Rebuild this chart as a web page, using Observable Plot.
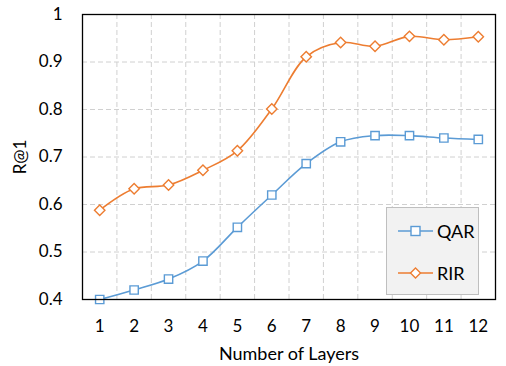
<!DOCTYPE html>
<html>
<head>
<meta charset="utf-8">
<script src="https://cdn.jsdelivr.net/npm/d3@7"></script>
<script src="https://cdn.jsdelivr.net/npm/@observablehq/plot@0.6"></script>
<style>
  html, body { margin: 0; padding: 0; background: #fff; }
  #wrap { position: relative; width: 506px; height: 366px; font-family: Lato, "Open Sans", sans-serif; }
  #legend { position: absolute; left: 386px; top: 207px; width: 93px; height: 88px; background: #f2f2f2; border: 1px solid #bfbfbf; box-sizing: border-box; }
  .item { position: absolute; left: 11px; height: 20px; display: flex; align-items: center; font-size: 18px; color: #000; }
  .item svg { margin-right: 4px; }
</style>
</head>
<body>
<div id="wrap"></div>
<script>
const layers = [1, 2, 3, 4, 5, 6, 7, 8, 9, 10, 11, 12];
const qar = [0.400, 0.420, 0.443, 0.481, 0.552, 0.620, 0.686, 0.732, 0.745, 0.745, 0.740, 0.737];
const rir = [0.588, 0.633, 0.641, 0.672, 0.713, 0.801, 0.911, 0.941, 0.933, 0.954, 0.947, 0.953];
const seriesNames = ["QAR", "RIR"];
const seriesColors = ["#5B9BD5", "#ED7D31"];
const seriesSymbols = ["square", "diamond2"];
const yTicks = [0.4, 0.5, 0.6, 0.7, 0.8, 0.9, 1];
const xGrid = [1.5, 2.5, 3.5, 4.5, 5.5, 6.5, 7.5, 8.5, 9.5, 10.5, 11.5];

const data = [];
[qar, rir].forEach((vals, si) => layers.forEach((l, i) => data.push({layer: l, value: vals[i], series: seriesNames[si]})));

const font = "Lato, 'Open Sans', sans-serif";
const chart = Plot.plot({
  width: 506,
  height: 366,
  marginLeft: 82,
  marginRight: 11,
  marginTop: 14,
  marginBottom: 67,
  style: {fontFamily: font, fontSize: "17px", color: "#000", background: "#fff"},
  x: {domain: [0.5, 12.5]},
  y: {domain: [0.4, 1]},
  color: {domain: seriesNames, range: seriesColors},
  symbol: {domain: seriesNames, range: seriesSymbols},
  marks: [
    Plot.ruleY(yTicks.slice(1, -1), {stroke: "#d0d0d0", strokeDasharray: "5,3", strokeWidth: 1}),
    Plot.ruleX(xGrid, {stroke: "#d0d0d0", strokeDasharray: "5,3", strokeWidth: 1}),
    Plot.axisY({ticks: yTicks, tickFormat: d3.format(".1~f"), tickSize: 0, tickPadding: 20, label: null, fontSize: 17}),
    Plot.axisX({ticks: layers, tickFormat: d => String(d), tickSize: 0, tickPadding: 20, label: null, fontSize: 17}),
    Plot.text(["R@1"], {frameAnchor: "left", dx: -62, rotate: -90, fontSize: 17, textAnchor: "middle"}),
    Plot.text(["Number of Layers"], {frameAnchor: "bottom", dy: 60, fontSize: 18, textAnchor: "middle"}),
    Plot.line(data, {x: "layer", y: "value", z: "series", stroke: "series", strokeWidth: 1.6, curve: "catmull-rom"}),
    Plot.dot(data, {x: "layer", y: "value", symbol: "series", stroke: "series", fill: "white", r: 4.7, strokeWidth: 1.4}),
    Plot.frame({stroke: "#000", strokeWidth: 1.3})
  ]
});
const wrap = document.getElementById("wrap");
wrap.appendChild(chart);

// legend overlay
const legend = document.createElement("div");
legend.id = "legend";
seriesNames.forEach((name, i) => {
  const item = document.createElement("div");
  item.className = "item";
  item.style.top = (i === 0 ? 13 : 55) + "px";
  const sym = i === 0
    ? `<rect x="13" y="5.5" width="9" height="9" fill="white" stroke="${seriesColors[i]}" stroke-width="1.4"/>`
    : `<path d="M17.5,5 L22.5,10 L17.5,15 L12.5,10 Z" fill="white" stroke="${seriesColors[i]}" stroke-width="1.4"/>`;
  item.innerHTML = `<svg width="35" height="20"><line x1="0" x2="35" y1="10" y2="10" stroke="${seriesColors[i]}" stroke-width="1.6"/>${sym}</svg><span>${name}</span>`;
  legend.appendChild(item);
});
wrap.appendChild(legend);
</script>
</body>
</html>
